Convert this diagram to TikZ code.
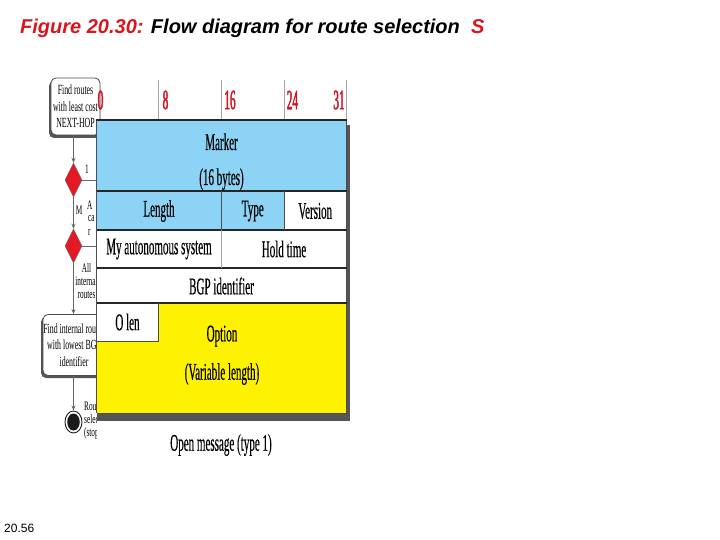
\documentclass[tikz,border=0pt]{standalone}
\usepackage{fontspec}
\setmainfont{Liberation Serif}
\newfontfamily\condfont[FakeStretch=0.46,FakeBold=0.3]{Liberation Serif}
\newfontfamily\numfont[FakeStretch=0.40,FakeBold=1.6]{Liberation Serif}
\newfontfamily\flowfont[FakeStretch=0.56]{Liberation Serif}
\newfontfamily\titlefont{Liberation Sans}
\usetikzlibrary{arrows.meta,shapes.geometric}
\definecolor{mblue}{RGB}{141,211,245}
\definecolor{myellow}{RGB}{255,242,0}
\definecolor{tred}{RGB}{220,20,30}
\definecolor{nred}{RGB}{200,25,40}
\definecolor{dred}{RGB}{228,25,35}
\definecolor{shadowgray}{RGB}{85,85,85}
\begin{document}
\begin{tikzpicture}[x=1pt,y=-1pt,
  fbox/.style={rectangle, rounded corners=5pt, draw=black!70, fill=white, line width=0.8pt,
    align=center, inner sep=0pt, font=\flowfont\fontsize{14}{16.5}\selectfont},
  fshadow/.style={fill=shadowgray, rounded corners=5pt},
  dia/.style={diamond, fill=dred, draw=black!60, line width=0.5pt, inner sep=0pt,
    minimum width=17pt, minimum height=34pt},
  conn/.style={draw=black!60, line width=0.8pt},
  arr/.style={conn, -{Stealth[length=5pt,width=4pt]}},
  flab/.style={inner sep=0pt, font=\flowfont\fontsize{13}{13}\selectfont},
  ctext/.style={inner sep=0pt, font=\condfont\fontsize{24}{24}\selectfont},
  num/.style={inner sep=0pt, text=nred, font=\numfont\fontsize{28}{28}\selectfont},
  hline/.style={draw=black!85, line width=1.6pt},
  vline/.style={draw=black!70, line width=1pt},
  tick/.style={draw=black!35, line width=0.8pt}
]
\useasboundingbox (0,0) rectangle (720,540);

% title and page number
\node[anchor=base west, inner sep=0pt, font=\titlefont\bfseries\itshape\fontsize{20}{20}\selectfont] (title) at (20,34)
  {\textcolor{tred}{Figure 20.30:} Flow diagram for route selection\ \ \textcolor{tred}{S}};
\node[anchor=west, inner sep=0pt, font=\titlefont\fontsize{12}{12}\selectfont] (pnum) at (4,528) {20.56};

% ---------------- flow diagram (partly hidden) ----------------
\fill[fshadow] (49,81) rectangle (100,138);
\node[fbox, minimum width=49pt, minimum height=57pt] (b1) at (75.5,106.5)
  {Find routes\\with least cost\\NEXT-HOP};
\node[dia] (d1) at (73.5,180) {};
\node[dia] (d2) at (73.5,246) {};
\fill[fshadow] (41,317) rectangle (104,378);
\node[fbox, minimum width=62pt, minimum height=61pt] (b2) at (74,345)
  {Find internal routes\\with lowest BGP\\identifier};
\node[ellipse, draw=black!90, line width=0.9pt, fill=white, minimum width=17pt, minimum height=22pt, inner sep=0pt] (c) at (73.5,422) {};
\node[ellipse, fill=black!90, minimum width=12.5pt, minimum height=17pt, inner sep=0pt] (ci) at (c.center) {};

\coordinate (e1) at (102,180);
\coordinate (e2) at (102,246);
\draw[arr] (b1.south -| d1.north) -- (d1.north);
\draw[conn] (d1.east) -- (e1);
\draw[arr] (d1.south) -- (d2.north);
\draw[conn] (d2.east) -- (e2);
\draw[arr] (d2.south) -- (b2.north -| d2.south);
\draw[arr] (b2.south -| c.north) -- (c.north);

\begin{scope}
\clip (0,140) rectangle (96.5,460);
\node[flab, anchor=center] (l1) at (87,169) {1};
\node[flab, anchor=center] (lm) at (79,210) {M};
\node[flab, anchor=west] (la) at (87,205) {A};
\node[flab, anchor=west] (lb) at (88,219) {ca};
\node[flab, anchor=west] (lc) at (88,232) {r};
\node[flab, align=center] (lall) at (86.5,281) {All\\internal\\routes};
\node[flab, align=left, anchor=north west] (lr) at (84,402) {Route\\selected\\(stop)};
\end{scope}

% ---------------- message format table ----------------
% shadow
\fill[shadowgray] (97,125) rectangle (350,421);
% fills
\fill[mblue] (96.5,120) rectangle (346.5,191);
\fill[mblue] (96.5,191) rectangle (284,230);
\fill[white] (284,191) rectangle (346.5,230);
\fill[white] (96.5,230) rectangle (346.5,303);
\fill[myellow] (96.5,303) rectangle (346.5,413);
\fill[white] (96.5,303) rectangle (158,341);

% header ticks
\draw[tick] (158,80) -- (158,120);
\draw[tick] (221.5,80) -- (221.5,120);
\draw[tick] (284,80) -- (284,120);
\draw[tick] (346.5,80) -- (346.5,120);
\node[num] (n0) at (100.5,100) {0};
\node[num] (n8) at (165.5,100) {8};
\node[num] (n16) at (230,100) {16};
\node[num] (n24) at (292.5,100) {24};
\node[num] (n31) at (339,100) {31};

% grid
\draw[vline] (96.5,120) -- (96.5,413);
\draw[vline] (346.5,120) -- (346.5,413);
\draw[hline] (95.7,120) -- (347.3,120);
\draw[hline] (96.5,191) -- (346.5,191);
\draw[hline] (96.5,230) -- (346.5,230);
\draw[hline] (96.5,268) -- (346.5,268);
\draw[hline] (96.5,303) -- (346.5,303);
\draw[vline] (96.5,413) -- (346.5,413);
\draw[vline] (221.5,191) -- (221.5,230);
\draw[vline] (284,191) -- (284,230);
\draw[draw=black!35, line width=1pt] (221.5,230) -- (221.5,268);
\draw[vline] (158,303) -- (158,341) -- (96.5,341);

% cell texts
\node[ctext, anchor=base] (marker) at (221.5,150) {Marker};
\node[ctext, anchor=base] (bytes) at (221.5,185) {(16 bytes)};
\node[ctext] (len) at (159,211) {Length};
\node[ctext] (type) at (252.75,211) {Type};
\node[ctext] (ver) at (315.25,211) {Version};
\node[ctext] (myas) at (159,249) {My autonomous system};
\node[ctext] (hold) at (284,249) {Hold time};
\node[ctext] (bgp) at (221.5,286) {BGP identifier};
\node[ctext] (olen) at (127.5,322) {O len};
\node[ctext] (opt) at (222,336) {Option};
\node[ctext] (var) at (222,374) {(Variable length)};
\node[ctext] (cap) at (221,445) {Open message (type 1)};
\end{tikzpicture}
\end{document}
